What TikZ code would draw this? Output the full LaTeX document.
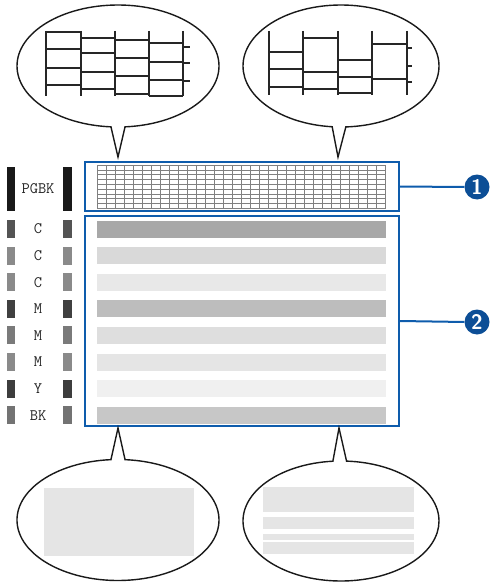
\documentclass[tikz,border=0pt]{standalone}
\usepackage{amsmath}
\usepackage{amssymb}
\usepackage{tikz}
\usepackage{xcolor}
\usetikzlibrary{shapes.callouts}

\definecolor{checkblue}{RGB}{14,92,172}
\definecolor{numblue}{RGB}{12,78,150}

\begin{document}
\begin{tikzpicture}[x=1pt, y=-1pt,
  balloon/.style={ellipse callout, draw=black!90, line width=1.4pt, fill=white, inner sep=0pt, callout pointer arc=8},
  thickgrid/.style={line width=2.3pt, draw=black!85},
  finegrid/.style={line width=0.6pt, draw=black!50},
  bluebox/.style={rectangle, draw=checkblue, line width=2.2pt, inner sep=0pt},
  inkbar/.style={rectangle, inner sep=0pt, minimum width=8.5, minimum height=18},
  stripe/.style={rectangle, inner sep=0pt, minimum width=289, minimum height=17},
  colour/.style={font=\ttfamily\fontsize{16}{16}\selectfont, text=black!85},
  numdot/.style={circle, fill=numblue, inner sep=0pt, minimum size=25, text=white, font=\sffamily\bfseries\fontsize{21}{21}\selectfont}
]
\useasboundingbox (0,0) rectangle (490,583);

% check boxes
\node[bluebox, minimum width=314, minimum height=49] (nozzle) at (242,186.5) {};
\node[bluebox, minimum width=314, minimum height=210] (colours) at (242,321) {};

% fine grid of the nozzle check
\foreach \k in {0,...,32}
  \draw[finegrid] (97+9*\k,165) -- (97+9*\k,208);
\foreach \k in {0,...,9}
  \draw[finegrid] (97,165+4.8*\k) -- (386,165+4.8*\k);

% PGBK row
\node[inkbar, fill=black!90, minimum height=44] (pgbkL) at (11,189) {};
\node[inkbar, fill=black!90, minimum height=44] (pgbkR) at (67.5,189) {};
\node[colour] (pgbk) at (38,189) {PGBK};

% colour rows
\foreach \i/\name/\bar/\band in {0/C/67/34, 1/C/46/15, 2/C/46/9, 3/M/75/26,
                                  4/M/52/13, 5/M/46/10, 6/Y/76/6, 7/BK/55/22} {
  \node[inkbar, fill=black!\bar] (barL\i) at (11,229+26.6*\i) {};
  \node[inkbar, fill=black!\bar] (barR\i) at (67.5,229+26.6*\i) {};
  \node[colour] (lbl\i) at (38,229+26.6*\i) {\name};
  \node[stripe, fill=black!\band] (band\i) at (241.5,229+26.6*\i) {};
}

% callout numbers
\node[numdot] (num1) at (477,187) {1};
\node[numdot] (num2) at (477,322) {2};
\draw[checkblue, line width=2pt] (nozzle.east) -- (num1.west);
\draw[checkblue, line width=2pt] (colours.east) -- (num2.west);

% good nozzle pattern
\node[balloon, minimum width=202, minimum height=122, callout absolute pointer={(118,157)}] (good) at (118,66) {};
\foreach \xa/\xb/\ys in {46/81/{32,49,68,85}, 81/115/{38,53,72,89},
                         115/149/{40,58,76,94}, 149/183/{43,62,80,96}}
  \foreach \y in \ys
    \draw[thickgrid] (\xa,\y) -- (\xb,\y);
\foreach \x in {46,81,115,149,183}
  \draw[thickgrid] (\x,31) -- (\x,96);
\foreach \y in {47,63,81}
  \draw[thickgrid] (183,\y) -- (190,\y);

% bad nozzle pattern
\node[balloon, minimum width=196, minimum height=122, callout absolute pointer={(338,157)}] (bad) at (341,66) {};
\foreach \xa/\xb/\ys in {269/303/{52,69,87}, 303/338/{38,72,89},
                         338/372/{60,77,93}, 372/407/{44,79}}
  \foreach \y in \ys
    \draw[thickgrid] (\xa,\y) -- (\xb,\y);
\foreach \x in {269,303,338,372,407}
  \draw[thickgrid] (\x,31) -- (\x,95);
\foreach \y in {48,66,82}
  \draw[thickgrid] (407,\y) -- (412,\y);

% good colour pattern
\node[balloon, minimum width=202, minimum height=121, callout absolute pointer={(118,428)}] (solid) at (118,520) {};
\node[rectangle, fill=black!10, inner sep=0pt, minimum width=150, minimum height=68] (solidfill) at (119,522) {};

% bad colour pattern
\node[balloon, minimum width=196, minimum height=120, callout absolute pointer={(339,428)}] (streak) at (341,521) {};
\foreach \ya/\yb in {487/512, 517/529, 534/540, 542/554}
  \fill[black!10] (263,\ya) rectangle (414,\yb);
\end{tikzpicture}
\end{document}
